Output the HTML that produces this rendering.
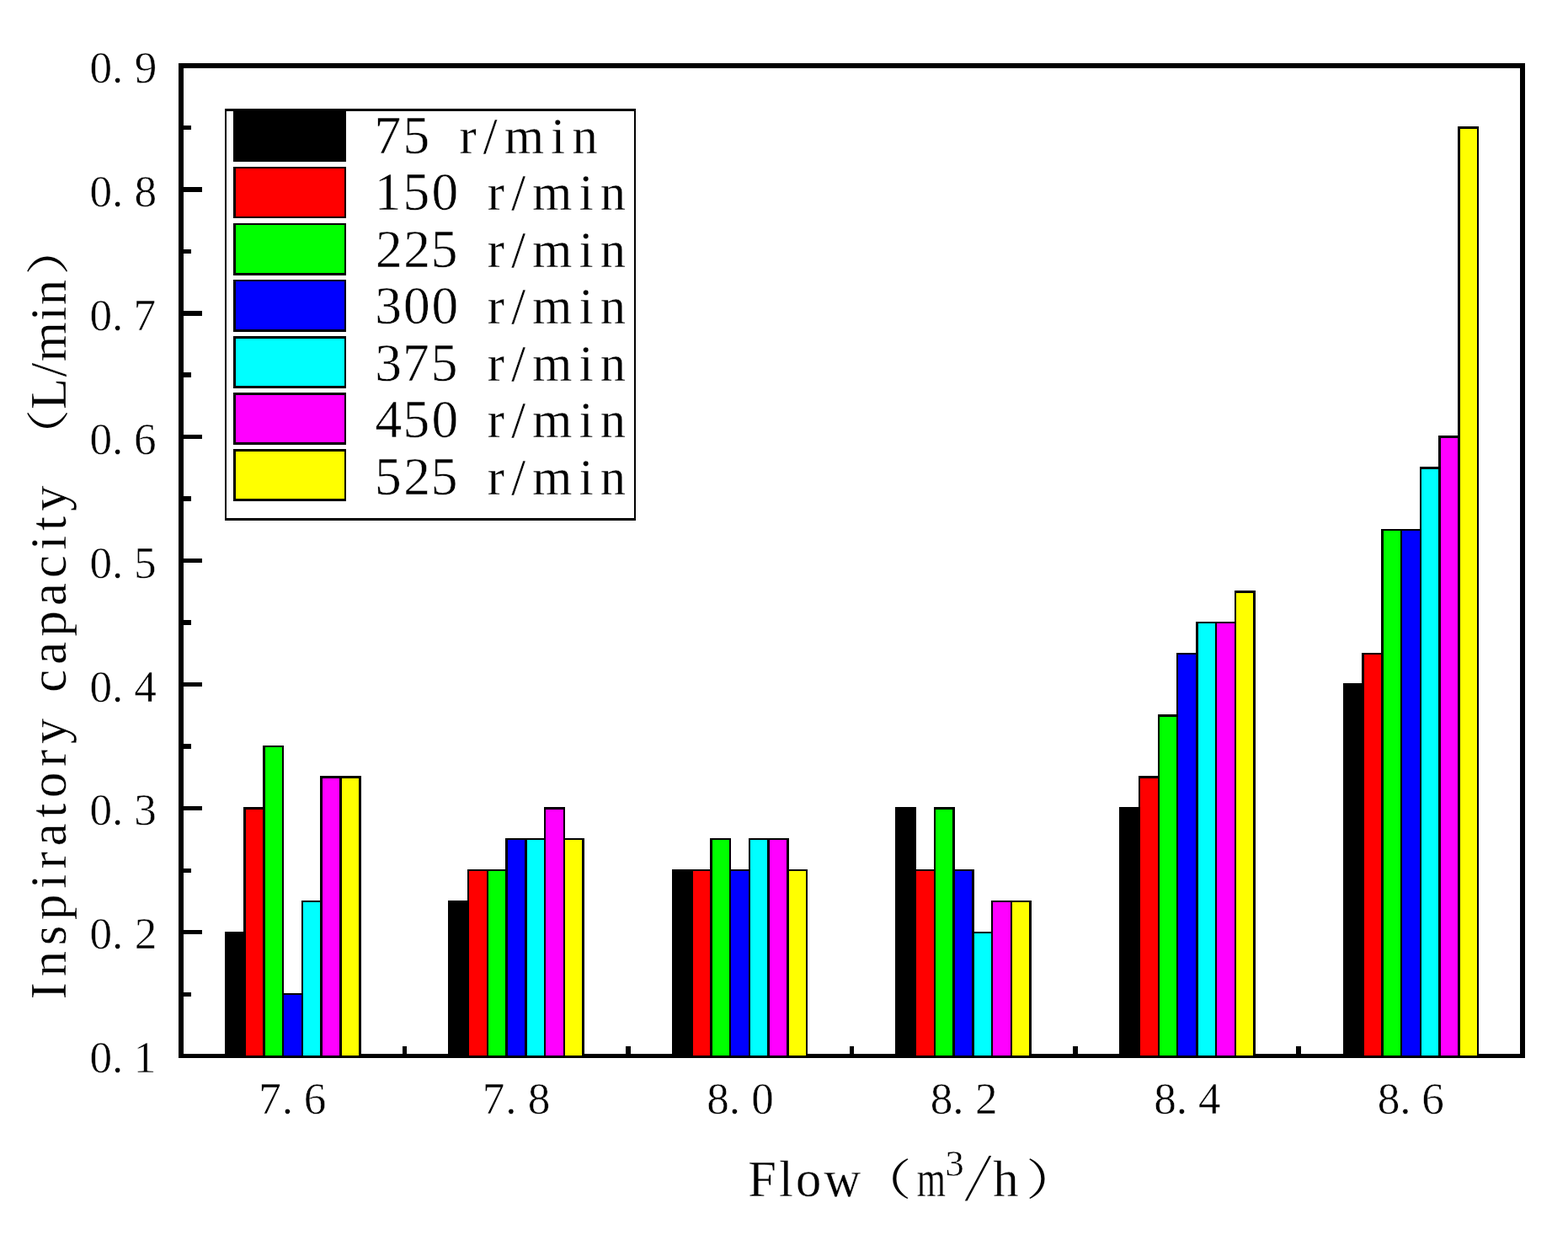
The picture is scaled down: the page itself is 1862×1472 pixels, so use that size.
<!DOCTYPE html>
<html lang="en">
<head>
<meta charset="utf-8">
<title>Inspiratory capacity</title>
<style>
html,body{margin:0;padding:0;background:#fff;}
body{width:1862px;height:1472px;overflow:hidden;}
svg{display:block;}
</style>
</head>
<body>
<svg width="1862" height="1472" viewBox="0 0 1862 1472">
<rect x="0" y="0" width="1862" height="1472" fill="#fff"/>
<g id="axes" shape-rendering="crispEdges" fill="#000">
<rect x="212" y="75" width="1599" height="6"/>
<rect x="212" y="1251" width="1599" height="5"/>
<rect x="212" y="75" width="6" height="1181"/>
<rect x="1805" y="75" width="6" height="1181"/>
<rect x="218" y="1104" width="22" height="5"/>
<rect x="218" y="957" width="22" height="5"/>
<rect x="218" y="810" width="22" height="5"/>
<rect x="218" y="663" width="22" height="5"/>
<rect x="218" y="516" width="22" height="5"/>
<rect x="218" y="369" width="22" height="6"/>
<rect x="218" y="222" width="22" height="6"/>
<rect x="218" y="1178" width="9" height="5"/>
<rect x="218" y="1031" width="9" height="5"/>
<rect x="218" y="883" width="9" height="6"/>
<rect x="218" y="736" width="9" height="6"/>
<rect x="218" y="589" width="9" height="6"/>
<rect x="218" y="442" width="9" height="6"/>
<rect x="218" y="296" width="9" height="5"/>
<rect x="218" y="149" width="9" height="5"/>
<rect x="478" y="1242" width="5" height="9"/>
<rect x="743" y="1242" width="6" height="9"/>
<rect x="1009" y="1242" width="5" height="9"/>
<rect x="1274" y="1242" width="6" height="9"/>
<rect x="1539" y="1242" width="6" height="9"/>
</g>
<g id="bars" shape-rendering="crispEdges" fill="#000">
<rect x="267" y="1106" width="25" height="149"/>
<rect x="289" y="958" width="26" height="297"/>
<rect x="292" y="961" width="20" height="292" fill="#f00"/>
<rect x="312" y="885" width="25" height="370"/>
<rect x="315" y="887" width="20" height="366" fill="#0f0"/>
<rect x="335" y="1179" width="25" height="76"/>
<rect x="337" y="1181" width="21" height="72" fill="#00f"/>
<rect x="358" y="1069" width="25" height="186"/>
<rect x="360" y="1071" width="20" height="182" fill="#0ff"/>
<rect x="380" y="921" width="26" height="334"/>
<rect x="383" y="924" width="20" height="329" fill="#f0f"/>
<rect x="403" y="921" width="26" height="334"/>
<rect x="406" y="924" width="20" height="329" fill="#ff0"/>
<rect x="532" y="1069" width="25" height="186"/>
<rect x="555" y="1032" width="25" height="223"/>
<rect x="557" y="1034" width="21" height="219" fill="#f00"/>
<rect x="578" y="1032" width="25" height="223"/>
<rect x="580" y="1034" width="20" height="219" fill="#0f0"/>
<rect x="600" y="995" width="26" height="260"/>
<rect x="603" y="997" width="20" height="256" fill="#00f"/>
<rect x="623" y="995" width="25" height="260"/>
<rect x="626" y="997" width="20" height="256" fill="#0ff"/>
<rect x="646" y="958" width="25" height="297"/>
<rect x="648" y="961" width="21" height="292" fill="#f0f"/>
<rect x="669" y="995" width="25" height="260"/>
<rect x="671" y="997" width="20" height="256" fill="#ff0"/>
<rect x="798" y="1032" width="25" height="223"/>
<rect x="821" y="1032" width="25" height="223"/>
<rect x="823" y="1034" width="20" height="219" fill="#f00"/>
<rect x="843" y="995" width="25" height="260"/>
<rect x="846" y="997" width="20" height="256" fill="#0f0"/>
<rect x="866" y="1032" width="25" height="223"/>
<rect x="868" y="1034" width="21" height="219" fill="#00f"/>
<rect x="889" y="995" width="25" height="260"/>
<rect x="891" y="997" width="20" height="256" fill="#0ff"/>
<rect x="911" y="995" width="26" height="260"/>
<rect x="914" y="997" width="20" height="256" fill="#f0f"/>
<rect x="934" y="1032" width="25" height="223"/>
<rect x="937" y="1034" width="20" height="219" fill="#ff0"/>
<rect x="1063" y="958" width="25" height="297"/>
<rect x="1086" y="1032" width="25" height="223"/>
<rect x="1088" y="1034" width="21" height="219" fill="#f00"/>
<rect x="1109" y="958" width="25" height="297"/>
<rect x="1111" y="961" width="20" height="292" fill="#0f0"/>
<rect x="1131" y="1032" width="26" height="223"/>
<rect x="1134" y="1034" width="20" height="219" fill="#00f"/>
<rect x="1154" y="1106" width="25" height="149"/>
<rect x="1157" y="1108" width="20" height="145" fill="#0ff"/>
<rect x="1177" y="1069" width="25" height="186"/>
<rect x="1179" y="1071" width="21" height="182" fill="#f0f"/>
<rect x="1200" y="1069" width="25" height="186"/>
<rect x="1202" y="1071" width="20" height="182" fill="#ff0"/>
<rect x="1329" y="958" width="25" height="297"/>
<rect x="1352" y="921" width="25" height="334"/>
<rect x="1354" y="924" width="21" height="329" fill="#f00"/>
<rect x="1375" y="848" width="24" height="407"/>
<rect x="1377" y="851" width="20" height="402" fill="#0f0"/>
<rect x="1397" y="775" width="26" height="480"/>
<rect x="1399" y="777" width="21" height="476" fill="#00f"/>
<rect x="1420" y="738" width="25" height="517"/>
<rect x="1423" y="740" width="20" height="513" fill="#0ff"/>
<rect x="1443" y="738" width="25" height="517"/>
<rect x="1445" y="740" width="21" height="513" fill="#f0f"/>
<rect x="1466" y="701" width="25" height="554"/>
<rect x="1468" y="704" width="20" height="549" fill="#ff0"/>
<rect x="1595" y="811" width="25" height="444"/>
<rect x="1617" y="775" width="26" height="480"/>
<rect x="1620" y="777" width="20" height="476" fill="#f00"/>
<rect x="1640" y="628" width="25" height="627"/>
<rect x="1643" y="630" width="20" height="623" fill="#0f0"/>
<rect x="1663" y="628" width="25" height="627"/>
<rect x="1665" y="630" width="21" height="623" fill="#00f"/>
<rect x="1686" y="554" width="25" height="701"/>
<rect x="1688" y="557" width="20" height="696" fill="#0ff"/>
<rect x="1708" y="517" width="26" height="738"/>
<rect x="1711" y="520" width="20" height="733" fill="#f0f"/>
<rect x="1731" y="150" width="25" height="1105"/>
<rect x="1734" y="153" width="20" height="1100" fill="#ff0"/>
</g>
<g id="legend" shape-rendering="crispEdges" fill="#000">
<rect x="267" y="129" width="488" height="3"/>
<rect x="267" y="615" width="488" height="3"/>
<rect x="267" y="129" width="2" height="489"/>
<rect x="753" y="129" width="2" height="489"/>
<rect x="277" y="131" width="134" height="61"/>
<rect x="277" y="198" width="134" height="61"/>
<rect x="280" y="200" width="129" height="57" fill="#f00"/>
<rect x="277" y="265" width="134" height="62"/>
<rect x="280" y="267" width="129" height="57" fill="#0f0"/>
<rect x="277" y="332" width="134" height="62"/>
<rect x="280" y="334" width="129" height="57" fill="#00f"/>
<rect x="277" y="399" width="134" height="62"/>
<rect x="280" y="402" width="129" height="56" fill="#0ff"/>
<rect x="277" y="466" width="134" height="62"/>
<rect x="280" y="469" width="129" height="56" fill="#f0f"/>
<rect x="277" y="533" width="134" height="62"/>
<rect x="280" y="536" width="129" height="56" fill="#ff0"/>
</g>
<g id="labels" fill="#000" stroke="#fff" stroke-width="0.5">
<text font-family="'Liberation Serif','Noto Serif CJK SC',serif" font-size="53.2" y="1273.25" x="106.45 133.11 158.65">0.1</text>
<text font-family="'Liberation Serif','Noto Serif CJK SC',serif" font-size="53.2" y="1126.35" x="106.45 133.11 159.72">0.2</text>
<text font-family="'Liberation Serif','Noto Serif CJK SC',serif" font-size="53.2" y="979.45" x="106.45 133.11 159.18">0.3</text>
<text font-family="'Liberation Serif','Noto Serif CJK SC',serif" font-size="53.2" y="832.55" x="106.45 133.11 159.32">0.4</text>
<text font-family="'Liberation Serif','Noto Serif CJK SC',serif" font-size="53.2" y="685.65" x="106.45 133.11 158.92">0.5</text>
<text font-family="'Liberation Serif','Noto Serif CJK SC',serif" font-size="53.2" y="538.75" x="106.45 133.11 159.05">0.6</text>
<text font-family="'Liberation Serif','Noto Serif CJK SC',serif" font-size="53.2" y="391.85" x="106.45 133.11 158.52">0.7</text>
<text font-family="'Liberation Serif','Noto Serif CJK SC',serif" font-size="53.2" y="244.95" x="106.45 133.11 159.45">0.8</text>
<text font-family="'Liberation Serif','Noto Serif CJK SC',serif" font-size="53.2" y="98.05" x="106.45 133.11 159.72">0.9</text>
<text font-family="'Liberation Serif','Noto Serif CJK SC',serif" font-size="53.2" y="1321.7" x="307.27 334.86 360.8">7.6</text>
<text font-family="'Liberation Serif','Noto Serif CJK SC',serif" font-size="53.2" y="1321.7" x="572.77 600.36 626.7">7.8</text>
<text font-family="'Liberation Serif','Noto Serif CJK SC',serif" font-size="53.2" y="1321.7" x="839.2 865.86 892.2">8.0</text>
<text font-family="'Liberation Serif','Noto Serif CJK SC',serif" font-size="53.2" y="1321.7" x="1104.7 1131.36 1157.97">8.2</text>
<text font-family="'Liberation Serif','Noto Serif CJK SC',serif" font-size="53.2" y="1321.7" x="1370.2 1396.86 1423.07">8.4</text>
<text font-family="'Liberation Serif','Noto Serif CJK SC',serif" font-size="53.2" y="1321.7" x="1635.7 1662.36 1688.3">8.6</text>
<text y="181.9" font-family="'Liberation Serif','Noto Serif CJK SC',serif" font-size="63.4"><tspan x="444.54 478.42">75</tspan> <tspan font-size="60.5" stroke-width="0.3" x="545.39 573.85 598.97 654.34 679.46">r/min</tspan></text>
<text y="249.4" font-family="'Liberation Serif','Noto Serif CJK SC',serif" font-size="63.4"><tspan x="444.7 478.42 512.45">150</tspan> <tspan font-size="60.5" stroke-width="0.3" x="578.79 607.25 632.37 687.74 712.86">r/min</tspan></text>
<text y="316.9" font-family="'Liberation Serif','Noto Serif CJK SC',serif" font-size="63.4"><tspan x="445.97 479.37 511.82">225</tspan> <tspan font-size="60.5" stroke-width="0.3" x="578.79 607.25 632.37 687.74 712.86">r/min</tspan></text>
<text y="384.4" font-family="'Liberation Serif','Noto Serif CJK SC',serif" font-size="63.4"><tspan x="445.33 479.05 512.45">300</tspan> <tspan font-size="60.5" stroke-width="0.3" x="578.79 607.25 632.37 687.74 712.86">r/min</tspan></text>
<text y="451.9" font-family="'Liberation Serif','Noto Serif CJK SC',serif" font-size="63.4"><tspan x="445.33 477.94 511.82">375</tspan> <tspan font-size="60.5" stroke-width="0.3" x="578.79 607.25 632.37 687.74 712.86">r/min</tspan></text>
<text y="519.4" font-family="'Liberation Serif','Noto Serif CJK SC',serif" font-size="63.4"><tspan x="445.49 478.42 512.45">450</tspan> <tspan font-size="60.5" stroke-width="0.3" x="578.79 607.25 632.37 687.74 712.86">r/min</tspan></text>
<text y="586.9" font-family="'Liberation Serif','Noto Serif CJK SC',serif" font-size="63.4"><tspan x="445.02 479.37 511.82">525</tspan> <tspan font-size="60.5" stroke-width="0.3" x="578.79 607.25 632.37 687.74 712.86">r/min</tspan></text>
<text y="1419.5" font-family="'Liberation Serif','Noto Serif CJK SC',serif" font-size="60.5" stroke-width="0.3"><tspan x="888.18 925.02 945.01 978.44">Flow</tspan><tspan stroke="none" font-size="51" textLength="63.75" lengthAdjust="spacingAndGlyphs" x="1018.86" dy="-0.7">（</tspan><tspan x="1088.7" dy="0.7" textLength="34.2" lengthAdjust="spacingAndGlyphs">m</tspan><tspan font-size="44.5" stroke-width="0.4" x="1122.5" dy="-23.5">3</tspan><tspan font-size="82" stroke-width="2.1" x="1143.6" dy="29.3" textLength="36" lengthAdjust="spacingAndGlyphs">/</tspan><tspan x="1179.3" dy="-5.8">h</tspan><tspan stroke="none" font-size="51" textLength="63.75" lengthAdjust="spacingAndGlyphs" x="1218.36" dy="-0.7">）</tspan></text>
<text transform="translate(78.3 0) rotate(-90)" font-family="'Liberation Serif','Noto Serif CJK SC',serif" font-size="60.5" stroke-width="0.3"><tspan y="0" x="-1186.32 -1159.35 -1122.29 -1091.93 -1054.86 -1031.24 -1004.27 -970.6 -946.98 -909.91 -882.95">Inspiratory</tspan> <tspan x="-821.72 -788.63 -755.53 -719.04 -685.94 -652.85 -629.8 -606.75">capacity</tspan> <tspan stroke="none" font-size="51" textLength="63.75" lengthAdjust="spacingAndGlyphs" x="-549.44" dy="-1.9">（</tspan><tspan x="-485.92 -447.47 -429.18 -380.64 -362.34" dy="1.9">L/min</tspan><tspan stroke="none" font-size="51" textLength="63.75" lengthAdjust="spacingAndGlyphs" x="-326.74" dy="-1.9">）</tspan></text>
</g>
</svg>
</body>
</html>
